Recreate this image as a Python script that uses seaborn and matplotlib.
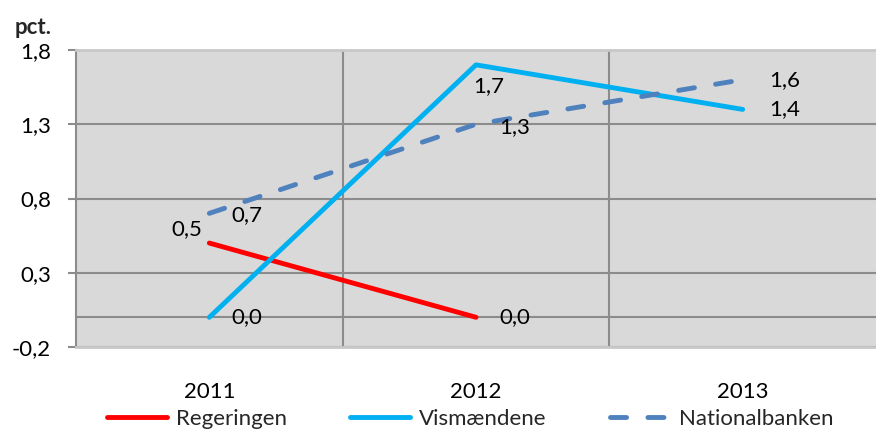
import matplotlib
matplotlib.use("Agg")
import matplotlib.pyplot as plt
import seaborn as sns
import pandas as pd
import numpy as np
from matplotlib.lines import Line2D

years = ["2011", "2012", "2013"]
regeringen = [0.5, 0.0, np.nan]
vismaendene = [0.0, 1.7, 1.4]
nationalbanken = [0.7, 1.3, 1.6]
series_names = ["Regeringen", "Vismændene", "Nationalbanken"]
yticks = [-0.2, 0.3, 0.8, 1.3, 1.8]
ytick_labels = ["-0,2", "0,3", "0,8", "1,3", "1,8"]

colors = {"Regeringen": "#FF0000", "Vismændene": "#00B0F0", "Nationalbanken": "#4F81BD"}

rows = []
for name, vals in zip(series_names, [regeringen, vismaendene, nationalbanken]):
    for i, (yr, v) in enumerate(zip(years, vals)):
        rows.append({"pos": i, "year": yr, "value": v, "serie": name})
df = pd.DataFrame(rows)

sns.set_theme(style="white")
plt.rcParams["font.family"] = ["Lato", "DejaVu Sans"]
FS = 16

fig = plt.figure(figsize=(8.76, 4.33), dpi=100)
ax = fig.add_axes([76/876, 1-347/433, 1-76/876, (347-50)/433])
ax.set_facecolor("#D9D9D9")

ax.set_xlim(-0.5, 2.5)
ax.set_ylim(-0.2, 1.8)

grid_c = "#8C8C8C"
for y in yticks:
    ax.axhline(y, color=grid_c, lw=1.5, zorder=1)
ax.axhline(0.0, color=grid_c, lw=1.5, zorder=1)
for x in [0.5, 1.5]:
    ax.axvline(x, color=grid_c, lw=1.5, zorder=1)

sns.lineplot(data=df.dropna(), x="pos", y="value", hue="serie", palette=colors,
             style="serie", dashes={"Regeringen": "", "Vismændene": "", "Nationalbanken": (3.3, 4.4)},
             linewidth=3.5, sort=False, legend=False, ax=ax, zorder=3)
for ln in ax.get_lines():
    ln.set_solid_capstyle("round")
    ln.set_dash_capstyle("round")

# data labels (offsets in points)
offsets = {
    "Regeringen": [((-5, 10), "right"), ((17, 0), "left"), None],
    "Vismændene": [((16, 0), "left"), ((-2, -15), "left"), ((19, 0), "left")],
    "Nationalbanken": [((16, -1.5), "left"), ((17, -2), "left"), ((19, 0), "left")],
}
for name, vals in zip(series_names, [regeringen, vismaendene, nationalbanken]):
    for i, v in enumerate(vals):
        if np.isnan(v) or offsets[name][i] is None:
            continue
        (dx, dy), ha = offsets[name][i]
        ax.annotate(f"{v:.1f}".replace(".", ","), (i, v), xytext=(dx, dy),
                    textcoords="offset points", ha=ha, va="center",
                    fontsize=FS, color="black", zorder=4)

ax.set_xticks(range(len(years)))
ax.set_xticklabels(years)
ax.set_yticks(yticks)
ax.set_yticklabels(ytick_labels)
ax.tick_params(axis="x", length=0, pad=25, labelsize=FS, colors="black")
ax.tick_params(axis="y", length=6, width=1.5, color=grid_c, direction="out", pad=12,
               labelsize=FS, labelcolor="black", left=True)
ax.set_xlabel("")
ax.set_ylabel("")

for s in ["top", "bottom"]:
    ax.spines[s].set_color("#C8C8C8")
    ax.spines[s].set_linewidth(2)
ax.spines["right"].set_visible(False)
ax.spines["left"].set_color(grid_c)
ax.spines["left"].set_linewidth(1.5)

fig.text(15/876, 1-27/433, "pct.", fontsize=FS, fontweight="bold", va="center", ha="left")

handles = [
    Line2D([], [], color=colors["Regeringen"], lw=3.5, solid_capstyle="round"),
    Line2D([], [], color=colors["Vismændene"], lw=3.5, solid_capstyle="round"),
    Line2D([], [], color=colors["Nationalbanken"], lw=3.5, dashes=(3.3, 4.4), dash_capstyle="round"),
]
fig.legend(handles, series_names, loc="center", bbox_to_anchor=(0.537, 1-419/433), ncol=3,
           frameon=False, fontsize=FS, handlelength=2.7, columnspacing=2.85, handletextpad=0.4,
           borderaxespad=0)

fig.savefig("out.png", dpi=100)
